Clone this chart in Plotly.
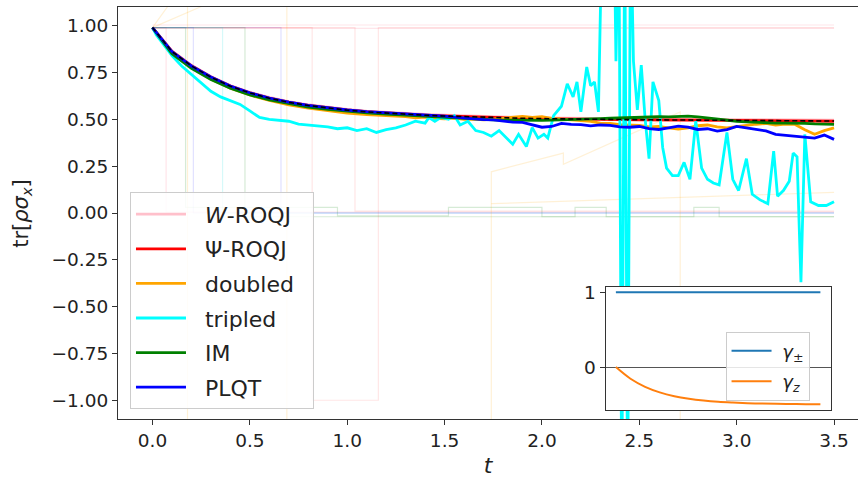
import plotly.graph_objects as go

# ---------------- data ----------------
ex_t = [0.0,0.1,0.2,0.3,0.4,0.5,0.6,0.7,0.8,0.9,1.0,1.1,1.2,1.3,1.4,1.5,1.6,1.7,1.8,1.9,
        2.0,2.1,2.2,2.3,2.4,2.5,2.6,2.7,2.8,2.9,3.0,3.1,3.2,3.3,3.4,3.5]
exact_y = [0.99,0.862,0.785,0.725,0.677,0.641,0.613,0.591,0.574,0.560,0.549,0.540,0.533,0.527,
           0.522,0.518,0.514,0.511,0.508,0.506,0.504,0.502,0.501,0.500,0.499,0.498,0.497,0.496,
           0.495,0.494,0.494,0.493,0.493,0.492,0.492,0.491]
psi_y = [0.99,0.863,0.786,0.726,0.678,0.642,0.614,0.592,0.575,0.561,0.550,0.541,0.534,0.528,
         0.523,0.518,0.514,0.511,0.508,0.506,0.504,0.502,0.501,0.500,0.499,0.498,0.497,0.496,
         0.495,0.494,0.493,0.493,0.492,0.492,0.491,0.490]
w_y = [0.99,0.866,0.789,0.729,0.681,0.645,0.617,0.595,0.578,0.564,0.553,0.544,0.537,0.531,
       0.526,0.522,0.518,0.515,0.512,0.510,0.508,0.506,0.505,0.504,0.503,0.502,0.501,0.500,
       0.499,0.499,0.498,0.498,0.497,0.497,0.496,0.496]

mc_t = [0.0,0.1,0.2,0.3,0.4,0.5,0.6,0.7,0.8,0.9,1.0,1.1,1.2,1.3,1.35,1.4,1.45,1.5,1.55,1.6,
        1.65,1.7,1.75,1.8,1.85,1.9,1.95,2.0,2.05,2.1,2.15,2.2,2.25,2.3,2.35,2.4,2.45,2.5,2.55,
        2.6,2.65,2.7,2.75,2.8,2.85,2.9,2.95,3.0,3.05,3.1,3.15,3.2,3.25,3.3,3.35,3.4,3.45,3.5]
doubled_y = [0.99,0.855,0.777,0.716,0.667,0.630,0.601,0.578,0.560,0.546,0.534,0.526,0.520,0.515,
             0.508,0.512,0.505,0.503,0.507,0.500,0.502,0.498,0.501,0.505,0.512,0.516,0.510,0.514,
             0.505,0.502,0.497,0.493,0.489,0.480,0.478,0.472,0.470,0.468,0.460,0.463,0.455,0.448,
             0.455,0.466,0.470,0.460,0.455,0.462,0.470,0.474,0.478,0.470,0.475,0.473,0.445,0.420,
             0.440,0.455]
im_y = [0.99,0.850,0.772,0.713,0.666,0.631,0.604,0.583,0.566,0.553,0.543,0.535,0.528,0.522,
        0.519,0.516,0.512,0.509,0.506,0.503,0.500,0.498,0.497,0.496,0.495,0.494,0.494,0.495,
        0.496,0.497,0.498,0.500,0.502,0.504,0.506,0.508,0.510,0.511,0.512,0.514,0.513,0.516,
        0.517,0.513,0.507,0.498,0.493,0.490,0.487,0.484,0.482,0.480,0.480,0.481,0.479,0.476,
        0.474,0.473]
plqt_y = [0.99,0.862,0.785,0.726,0.678,0.642,0.614,0.592,0.575,0.561,0.550,0.541,0.535,0.532,
          0.530,0.526,0.522,0.517,0.512,0.507,0.502,0.499,0.497,0.490,0.485,0.484,0.470,0.458,
          0.462,0.478,0.473,0.472,0.465,0.470,0.468,0.460,0.458,0.462,0.450,0.446,0.455,0.464,
          0.458,0.446,0.450,0.437,0.445,0.462,0.455,0.445,0.438,0.420,0.415,0.410,0.407,0.400,
          0.416,0.393]

tri_t = [0.0,0.02,0.05,0.10,0.15,0.20,0.25,0.30,0.35,0.40,0.45,0.50,0.55,0.60,0.65,0.70,0.75,
         0.80,0.85,0.90,0.95,1.00,1.05,1.10,1.15,1.20,1.25,1.30,1.35,1.40,1.42,1.45,1.48,1.52,
         1.55,1.58,1.62,1.66,1.70,1.74,1.78,1.82,1.85,1.88,1.92,1.95,1.98,2.01,2.03,2.06,2.10,
         2.13,2.16,2.18,2.20,2.23,2.25,2.27,2.29,2.31,2.37,2.38,2.395,2.41,2.425,2.44,2.455,
         2.47,2.49,2.51,2.53,2.55,2.57,2.60,2.62,2.64,2.67,2.70,2.73,2.76,2.79,2.82,2.85,2.88,
         2.91,2.95,2.98,3.01,3.05,3.08,3.12,3.16,3.19,3.21,3.24,3.27,3.29,3.31,3.33,3.35,3.38,
         3.42,3.46,3.50]
tripled_y = [0.99,0.95,0.91,0.84,0.785,0.74,0.69,0.65,0.62,0.60,0.58,0.545,0.51,0.50,0.495,
             0.49,0.475,0.47,0.465,0.46,0.45,0.455,0.44,0.45,0.43,0.445,0.455,0.47,0.49,0.48,
             0.51,0.49,0.51,0.50,0.52,0.47,0.49,0.44,0.43,0.41,0.44,0.40,0.367,0.42,0.355,0.456,
             0.40,0.42,0.40,0.52,0.57,0.69,0.62,0.70,0.54,0.78,0.68,0.70,0.54,1.6,1.6,0.81,1.6,
             -1.6,1.6,-1.6,1.6,0.81,0.55,0.79,0.50,0.29,0.70,0.60,0.35,0.24,0.20,0.20,0.27,0.18,
             0.49,0.24,0.18,0.16,0.15,0.43,0.18,0.12,0.29,0.10,0.07,0.05,0.33,0.09,0.12,0.17,
             0.32,0.30,-0.37,0.42,0.06,0.04,0.04,0.06]

# faint individual trajectories
faint = [
    ("pink",   [0.0, 3.5], [1.004, 1.004]),
    ("pink",   [0.0, 3.5], [0.986, 0.986]),
    ("pink",   [0.0, 0.07, 0.07, 3.5], [0.99, 0.99, 0.005, 0.005]),
    ("red",    [0.0, 1.04, 1.04, 3.5], [0.99, 0.99, 0.01, 0.01]),
    ("red",    [0.0, 0.82, 0.82, 1.16, 1.16, 3.5], [0.99, 0.99, -1.0, -1.0, 0.99, 0.99]),
    ("green",  [0.0, 0.17, 0.17, 0.95, 0.95, 1.52, 1.52, 2.0, 2.0, 2.17, 2.17, 2.33, 2.33,
                2.78, 2.78, 2.91, 2.91, 3.5],
               [0.99, 0.99, 0.03, 0.03, -0.015, -0.015, 0.03, 0.03, -0.02, -0.02, 0.03, 0.03,
                -0.02, -0.02, 0.03, 0.03, -0.02, -0.02]),
    ("green",  [0.0, 0.475, 0.475, 3.5], [0.99, 0.99, -0.02, -0.02]),
    ("blue",   [0.0, 0.21, 0.21, 3.5], [0.99, 0.99, 0.0, 0.0]),
    ("blue",   [0.0, 0.66, 0.66, 3.5], [0.99, 0.99, 0.0, 0.0]),
    ("cyan",   [0.0, 0.36, 0.36, 3.5], [0.99, 0.99, 0.0, 0.0]),
    ("orange", [0.0, 0.18, 0.18], [0.99, 1.25, -1.3]),
    ("orange", [0.0, 0.69, 0.69], [0.99, 1.3, -1.3]),
    ("orange", [1.74, 1.74, 2.11, 2.11, 2.71, 2.71], [-1.3, 0.22, 0.32, 0.26, 0.54, -1.3]),
    ("orange", [1.74, 3.5], [0.05, 0.11]),
]
faint_rgba = {"pink": "rgba(255,150,170,0.25)", "red": "rgba(255,0,0,0.10)",
              "green": "rgba(0,128,0,0.16)", "blue": "rgba(0,0,255,0.12)",
              "cyan": "rgba(0,220,220,0.16)", "orange": "rgba(255,165,0,0.16)"}

gam_t = [0.0,0.25,0.5,0.75,1.0,1.25,1.5,1.75,2.0,2.25,2.5,2.75,3.0,3.25,3.5]
gam_pm = [1.0]*15
gam_z = [0.0,-0.156,-0.264,-0.338,-0.389,-0.423,-0.447,-0.464,-0.475,-0.483,-0.488,-0.492,
         -0.494,-0.496,-0.497]

# ---------------- figure ----------------
FONT = "DejaVu Sans"
NB = "\u00a0\u00a0"
fig = go.Figure()

for c, tt, yy in faint:
    fig.add_trace(go.Scatter(x=tt, y=yy, mode="lines", line=dict(color=faint_rgba[c], width=1.2),
                             showlegend=False, hoverinfo="skip"))

main = [
    ("<i>W</i>-ROQJ", ex_t, w_y, "pink"),
    ("Ψ-ROQJ", ex_t, psi_y, "red"),
    ("doubled", mc_t, doubled_y, "orange"),
    ("tripled", tri_t, tripled_y, "cyan"),
    ("IM", mc_t, im_y, "green"),
    ("PLQT", mc_t, plqt_y, "blue"),
]
for i, (name, tt, yy, col) in enumerate(main):
    fig.add_trace(go.Scatter(x=tt, y=yy, mode="lines", name=NB + name + NB, legendgroup=f"g{i}",
                             line=dict(color=col, width=2.8), legend="legend"))

fig.add_trace(go.Scatter(x=ex_t, y=exact_y, mode="lines", showlegend=False,
                         line=dict(color="black", width=1.6, dash="5px,3px")))

fig.add_trace(go.Scatter(x=gam_t, y=gam_pm, mode="lines", name="\u00a0<i>γ</i><sub>±</sub>",
                         line=dict(color="#1f77b4", width=2), xaxis="x2", yaxis="y2",
                         legend="legend2", legendgroup="a"))
fig.add_trace(go.Scatter(x=gam_t, y=gam_z, mode="lines", name="\u00a0<i>γ<sub>z</sub></i>",
                         line=dict(color="#ff7f0e", width=2, shape="spline"), xaxis="x2", yaxis="y2",
                         legend="legend2", legendgroup="b"))

axcol = "#333333"
fig.update_layout(
    width=860, height=478,
    margin=dict(l=118, r=2, t=5, b=59),
    paper_bgcolor="white", plot_bgcolor="white",
    font=dict(family=FONT, size=18.5, color="#222"),
    xaxis=dict(domain=[0, 1], range=[-0.177, 3.623], showgrid=False, zeroline=False,
               showline=True, linecolor=axcol, linewidth=1.2, mirror=True,
               ticks="outside", ticklen=5, tickcolor=axcol,
               tickvals=[0, 0.5, 1.0, 1.5, 2.0, 2.5, 3.0, 3.5],
               ticktext=["0.0", "0.5", "1.0", "1.5", "2.0", "2.5", "3.0", "3.5"],
               title=dict(text="<i>t</i>", font=dict(size=22), standoff=7)),
    yaxis=dict(domain=[0, 1], range=[-1.1, 1.1], showgrid=False, zeroline=False,
               showline=True, linecolor=axcol, linewidth=1.2,
               ticks="outside", ticklen=5, tickcolor=axcol,
               tickvals=[-1.0, -0.75, -0.5, -0.25, 0.0, 0.25, 0.5, 0.75, 1.0],
               ticktext=["−1.00", "−0.75", "−0.50", "−0.25", "0.00", "0.25", "0.50", "0.75", "1.00"]),
    xaxis2=dict(domain=[0.659, 0.963], range=[-0.175, 3.675], anchor="y2", showgrid=False,
                zeroline=False, showline=True, mirror=True, linecolor=axcol, linewidth=1.2,
                showticklabels=False, ticks=""),
    yaxis2=dict(domain=[0.0217, 0.321], range=[-0.575, 1.075], anchor="x2", showgrid=False,
                zeroline=True, zerolinecolor="#555", zerolinewidth=1,
                showline=True, mirror=True, linecolor=axcol, linewidth=1.2,
                ticks="outside", ticklen=5, tickcolor=axcol, tickvals=[0, 1], ticktext=["0", "1"]),
    legend=dict(x=0.0162, y=0.55, xanchor="left", yanchor="top",
                bgcolor="rgba(255,255,255,0.85)", bordercolor="#cccccc", borderwidth=1,
                font=dict(size=22, color="#222"), tracegroupgap=3, itemwidth=50,
                traceorder="grouped"),
    legend2=dict(x=0.821, y=0.212, xanchor="left", yanchor="top",
                 bgcolor="rgba(255,255,255,0.85)", bordercolor="#cccccc", borderwidth=1,
                 font=dict(size=18, color="#222"), tracegroupgap=4, itemwidth=40,
                 traceorder="grouped"),
    annotations=[dict(text="tr[<i>ρσ</i><sub><i>x</i></sub>]", xref="paper", yref="paper",
                      x=-0.130, y=0.5, xanchor="center", yanchor="middle", textangle=-90,
                      showarrow=False, font=dict(size=21, color="#222"))],
)

fig.write_html("out.html", config={"displayModeBar": False},
               post_script="document.body.style.margin='0';")
